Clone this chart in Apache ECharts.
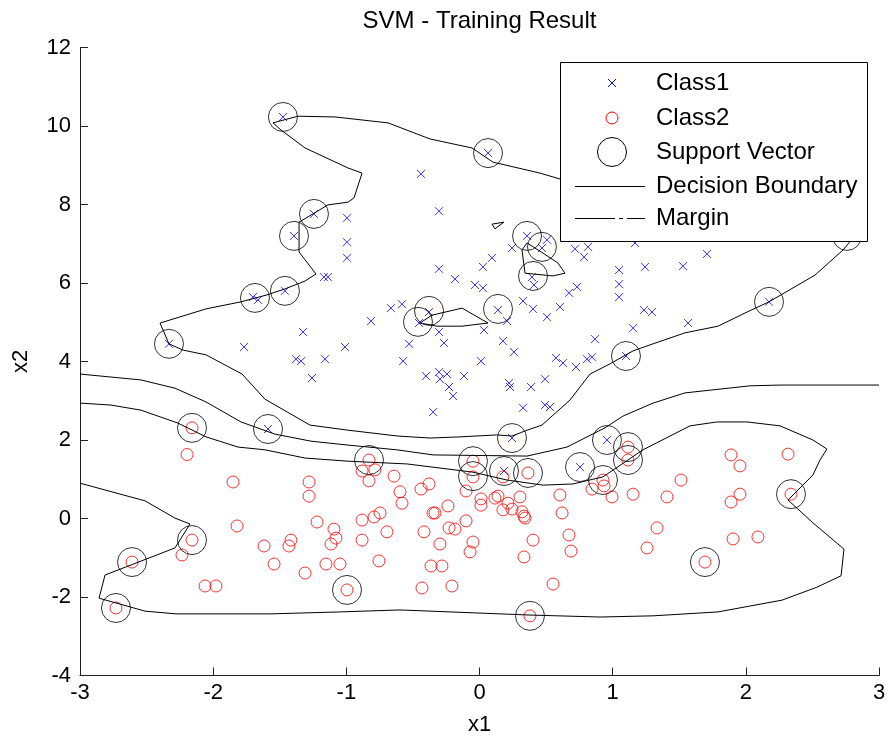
<!DOCTYPE html>
<html>
<head>
<meta charset="utf-8">
<script src="https://cdn.jsdelivr.net/npm/echarts@6/dist/echarts.min.js"></script>
<style>
  html, body { margin: 0; padding: 0; background: #fff; }
  #chart { width: 889px; height: 743px; }
</style>
</head>
<body>
<div id="chart"></div>
<script>
// Training samples, class 1 (x1, x2)
const class1 = [
  [-1.476, 10.23], [0.064, 9.31], [-0.439, 8.78], [-0.304, 7.83], [-1.243, 7.76],
  [-1.393, 7.20], [-0.995, 7.66], [-0.995, 7.04], [-0.995, 6.64], [-1.168, 6.15],
  [-1.138, 6.15], [-1.701, 5.64], [-1.663, 5.57], [-1.461, 5.80], [-1.325, 4.75],
  [-1.768, 4.37], [-1.378, 4.06], [-1.340, 4.01], [-1.160, 4.06], [-1.258, 3.58],
  [-1.010, 4.37], [-2.332, 4.45], [-1.588, 2.28], [-0.304, 6.36], [-0.184, 6.10],
  [-0.034, 5.95], [0.026, 5.87], [0.026, 6.41], [0.094, 6.64], [0.244, 6.89],
  [0.357, 7.20], [0.507, 7.10], [0.469, 6.89], [0.394, 6.15], [0.409, 5.95],
  [0.717, 6.87], [0.815, 6.92], [0.785, 6.66], [0.732, 5.90], [1.168, 7.02],
  [1.708, 6.74], [2.760, 7.20], [1.048, 5.97], [1.048, 5.64], [1.235, 5.31],
  [1.295, 5.26], [1.153, 4.85], [1.566, 4.98], [2.174, 5.52], [1.100, 4.14],
  [0.957, 2.00], [0.327, 5.54], [0.402, 5.34], [0.672, 5.75], [0.604, 5.39],
  [0.507, 5.13], [-0.379, 5.26], [-0.454, 4.98], [0.139, 5.31], [0.207, 5.03],
  [0.034, 4.80], [-0.665, 5.36], [-0.582, 5.46], [-0.815, 5.03], [-0.529, 4.45],
  [-0.304, 4.75], [-0.267, 4.47], [-0.574, 4.01], [0.176, 4.52], [0.259, 4.24],
  [0.011, 4.01], [-0.402, 3.63], [-0.304, 3.73], [-0.297, 3.55], [-0.244, 3.68],
  [-0.116, 3.63], [-0.229, 3.35], [-0.199, 3.12], [0.222, 3.45], [0.229, 3.35],
  [0.387, 3.35], [0.492, 3.55], [0.574, 4.09], [0.627, 3.96], [0.725, 3.86],
  [0.807, 4.06], [0.845, 4.11], [0.867, 4.57], [0.327, 2.82], [0.492, 2.89],
  [0.529, 2.84], [-0.349, 2.71], [0.244, 2.05], [0.184, 1.21], [0.755, 1.31],
  [1.048, 6.33], [1.243, 6.41], [1.528, 6.43]
];

// Training samples, class 2 (x1, x2)
const class2 = [
  [-2.159, 2.31], [-2.196, 1.63], [-1.851, 0.93], [-1.280, 0.93], [-1.280, 0.57],
  [-1.821, -0.19], [-1.220, -0.09], [-1.093, -0.27], [-1.078, -0.50], [-1.115, -0.65],
  [-2.159, -0.55], [-2.234, -0.93], [-1.416, -0.55], [-1.431, -0.70], [-1.618, -0.70],
  [-1.543, -1.16], [-1.310, -1.39], [-1.153, -1.16], [-1.048, -1.16], [-2.609, -1.11],
  [-2.061, -1.72], [-1.979, -1.72], [-2.730, -2.28], [-0.995, -1.82], [-0.830, 1.49],
  [-0.882, 1.21], [-0.785, 1.24], [-0.830, 0.96], [-0.642, 1.08], [-0.597, 0.68],
  [-0.582, 0.39], [-0.439, 0.75], [-0.379, 0.88], [-0.101, 0.70], [-0.049, 1.46],
  [-0.049, 1.06], [0.011, 0.50], [0.011, 0.34], [0.116, 0.52], [0.139, 0.57],
  [0.176, 1.06], [0.176, 0.22], [0.214, 0.39], [0.244, 0.24], [0.304, 0.55],
  [0.319, 0.17], [0.334, 0.06], [0.342, 0.01], [0.364, 1.16], [0.604, 0.60],
  [0.620, 0.14], [-0.882, -0.04], [-0.792, 0.04], [-0.747, 0.14], [-0.349, 0.14],
  [-0.334, 0.14], [-0.237, 0.32], [-0.101, -0.06], [-0.229, -0.24], [-0.184, -0.27],
  [-0.417, -0.34], [-0.695, -0.34], [-0.882, -0.55], [-0.297, -0.65], [-0.049, -0.60],
  [-0.071, -0.85], [0.402, -0.55], [0.672, -0.42], [0.687, -0.83], [0.334, -0.98],
  [-0.755, -1.08], [-0.364, -1.21], [-0.282, -1.21], [-0.432, -1.77], [-0.207, -1.72],
  [0.552, -1.67], [0.379, -2.48], [0.845, 0.75], [0.927, 0.98], [0.935, 0.83],
  [0.995, 0.55], [1.153, 0.62], [1.408, 0.55], [1.513, 0.98], [1.115, 1.82],
  [1.115, 1.49], [1.889, 1.62], [1.956, 1.34], [2.317, 1.64], [1.956, 0.62],
  [1.889, 0.42], [2.339, 0.62], [1.333, -0.24], [1.258, -0.75], [1.904, -0.52],
  [2.091, -0.47], [1.693, -1.11]
];

// Support vectors found by the trained classifier
const supportVectors = [
  [-1.476, 10.23], [0.064, 9.31], [-1.243, 7.76], [-1.393, 7.20], [-1.686, 5.62],
  [-1.461, 5.80], [-2.332, 4.45], [-1.588, 2.28], [-0.379, 5.29], [-0.462, 5.01],
  [0.139, 5.34], [0.357, 7.20], [0.469, 6.92], [0.402, 6.18], [2.174, 5.52],
  [1.100, 4.14], [2.760, 7.20], [0.244, 2.05], [0.184, 1.21], [0.755, 1.31],
  [0.957, 2.00],
  [-2.159, 2.31], [-0.830, 1.49], [-0.049, 1.46], [-0.049, 1.08], [0.364, 1.16],
  [0.927, 0.98], [1.115, 1.82], [1.115, 1.49], [2.339, 0.62], [1.693, -1.11],
  [0.379, -2.48], [-0.995, -1.82], [-2.730, -2.28], [-2.609, -1.11], [-2.159, -0.55]
];

// Zero level of the decision function
const decisionBoundary = [
  [-3.0, 3.68], [-2.542, 3.53], [-2.287, 3.32], [-2.054, 2.97], [-1.791, 2.46],
  [-1.536, 2.15], [-1.265, 1.97], [-0.987, 1.87], [-0.620, 1.75], [-0.349, 1.62],
  [0.357, 1.59], [0.657, 1.82], [0.942, 2.31], [1.078, 2.61], [1.303, 2.94],
  [1.543, 3.20], [2.031, 3.38], [2.257, 3.40], [3.0, 3.40]
];

// Margin contour on the class 1 side
const marginClass1 = [
  [-1.551, 10.08], [-1.363, 10.25], [-1.085, 10.23], [-0.687, 10.08], [-0.372, 9.67],
  [-0.056, 9.44], [0.101, 9.08], [0.454, 8.80], [0.604, 8.65], [1.656, 8.04],
  [2.632, 7.55], [2.842, 7.30], [2.730, 6.84], [2.519, 6.20], [2.174, 5.52],
  [2.009, 5.26], [1.791, 4.90], [1.543, 4.73], [1.303, 4.45], [1.153, 4.27],
  [0.980, 3.94], [0.830, 3.68], [0.680, 3.02], [0.469, 2.38], [0.357, 2.25],
  [0.244, 2.10], [0.131, 2.13], [-0.146, 2.08], [-0.372, 2.05], [-0.612, 2.10],
  [-0.987, 2.25], [-1.273, 2.38], [-1.611, 3.04], [-1.783, 3.68], [-2.054, 4.17],
  [-2.226, 4.29], [-2.332, 4.45], [-2.399, 4.98], [-2.054, 5.34], [-1.791, 5.52],
  [-1.603, 5.69], [-1.461, 5.85], [-1.310, 6.05], [-1.228, 6.23], [-1.355, 6.79],
  [-1.355, 7.55], [-1.138, 7.99], [-0.987, 8.06], [-0.942, 8.17], [-0.882, 8.80],
  [-0.987, 8.93], [-1.310, 9.44], [-1.491, 9.90], [-1.551, 10.08]
];

// Small closed pieces of the class 1 margin
const marginIslandA = [
  [-0.447, 4.98], [-0.357, 5.18], [-0.131, 5.36], [0.064, 4.98], [-0.131, 4.90],
  [-0.319, 4.90], [-0.447, 4.98]
];
const marginIslandB = [
  [0.357, 7.02], [0.477, 6.76], [0.589, 6.51], [0.642, 6.25], [0.552, 6.18],
  [0.342, 6.25], [0.319, 6.84], [0.357, 7.02]
];
const marginIslandC = [
  [0.094, 7.50], [0.184, 7.55], [0.116, 7.38], [0.094, 7.50]
];

// Margin contour on the class 2 side
const marginClass2 = [
  [-3.0, 2.94], [-2.767, 2.89], [-2.542, 2.76], [-2.264, 2.43], [-2.054, 2.08],
  [-1.813, 1.82], [-1.611, 1.75], [-1.310, 1.54], [-0.987, 1.46], [-0.544, 1.39],
  [-0.049, 1.18], [0.207, 0.98], [0.477, 0.85], [0.702, 0.88], [0.927, 1.06],
  [1.228, 1.75], [1.581, 2.36], [1.783, 2.46], [2.009, 2.46], [2.257, 2.36],
  [2.504, 2.00], [2.609, 1.77], [2.557, 1.49], [2.504, 1.11], [2.317, 0.47],
  [2.504, -0.11], [2.737, -0.78], [2.715, -1.46], [2.534, -1.75], [2.272, -2.08],
  [1.791, -2.38], [1.303, -2.48], [0.905, -2.51], [0.379, -2.46], [-0.597, -2.33],
  [-1.048, -2.38], [-1.566, -2.43], [-2.279, -2.43], [-2.512, -2.36], [-2.857, -2.03],
  [-2.812, -1.44], [-2.287, -0.75], [-2.174, -0.14], [-2.287, 0.01], [-2.512, 0.45],
  [-3.0, 0.90]
];

const xTicks = { min: -3, max: 3, interval: 1 };
const yTicks = { min: -4, max: 12, interval: 2 };

const FONT = '"Liberation Sans", Arial, Helvetica, sans-serif';
const CROSS = 'path://M0,0L10,10M10,0L0,10';

function contour(name, data) {
  return {
    name: name, type: 'line', data: data, showSymbol: false, symbol: 'none',
    lineStyle: { color: '#000', width: 1 }, silent: true, z: 3, clip: true
  };
}

const chart = echarts.init(document.getElementById('chart'), null, { renderer: 'canvas' });

// Legend box drawn with plain shapes and text
const lx = 560, ly = 62, lw = 307, lh = 179;
const rowY = [83, 118, 152, 186, 218];
const textX = 656;
const legendText = ['Class1', 'Class2', 'Support Vector', 'Decision Boundary', 'Margin'];
const legendGraphic = [
  { type: 'rect', shape: { x: lx + 0.5, y: ly + 0.5, width: lw, height: lh },
    style: { fill: '#fff', stroke: '#000', lineWidth: 1 }, z: 100 },
  { type: 'group', z: 101, children: [
    { type: 'line', shape: { x1: 608, y1: 79, x2: 616, y2: 87 }, style: { stroke: '#0000ff', lineWidth: 1 }, z: 101 },
    { type: 'line', shape: { x1: 616, y1: 79, x2: 608, y2: 87 }, style: { stroke: '#0000ff', lineWidth: 1 }, z: 101 }
  ]},
  { type: 'circle', shape: { cx: 612, cy: 118, r: 6 }, style: { fill: 'none', stroke: '#ff0000', lineWidth: 1 }, z: 101 },
  { type: 'circle', shape: { cx: 612, cy: 152, r: 14.5 }, style: { fill: 'none', stroke: '#000', lineWidth: 1 }, z: 101 },
  { type: 'line', shape: { x1: 575, y1: 186.5, x2: 645, y2: 186.5 }, style: { stroke: '#000', lineWidth: 1 }, z: 101 },
  { type: 'line', shape: { x1: 575, y1: 218.5, x2: 645, y2: 218.5 },
    style: { stroke: '#000', lineWidth: 1, lineDash: [40, 4, 4, 4] }, z: 101 }
].concat(legendText.map(function (t, i) {
  return { type: 'text', x: textX, y: rowY[i], z: 101,
    style: { text: t, font: '24px ' + FONT, fill: '#000', textVerticalAlign: 'middle', verticalAlign: 'middle' } };
})).concat([
  { type: 'text', x: 479.5, y: 21, z: 101,
    style: { text: 'SVM - Training Result', font: '24px ' + FONT, fill: '#000',
      textAlign: 'center', align: 'center', textVerticalAlign: 'middle', verticalAlign: 'middle' } }
]);

chart.setOption({
  animation: false,
  backgroundColor: '#fff',
  grid: { left: 80, top: 47.5, width: 799, height: 628, containLabel: false },
  xAxis: {
    type: 'value', min: xTicks.min, max: xTicks.max, interval: xTicks.interval,
    name: 'x1', nameLocation: 'middle', nameGap: 38,
    nameTextStyle: { fontFamily: FONT, fontSize: 22, color: '#000' },
    axisLine: { onZero: false, lineStyle: { color: '#222', width: 1 } },
    axisTick: { inside: true, length: 8, lineStyle: { color: '#222' } },
    axisLabel: { fontFamily: FONT, fontSize: 22, color: '#000', margin: 6 },
    splitLine: { show: false }
  },
  yAxis: {
    type: 'value', min: yTicks.min, max: yTicks.max, interval: yTicks.interval,
    name: 'x2', nameLocation: 'middle', nameGap: 48, nameRotate: 90,
    nameTextStyle: { fontFamily: FONT, fontSize: 22, color: '#000' },
    axisLine: { onZero: false, lineStyle: { color: '#222', width: 1 } },
    axisTick: { inside: true, length: 8, lineStyle: { color: '#222' } },
    axisLabel: { fontFamily: FONT, fontSize: 22, color: '#000', margin: 9 },
    splitLine: { show: false }
  },
  graphic: legendGraphic,
  series: [
    { name: 'Class1', type: 'scatter', data: class1, symbol: CROSS, symbolSize: 8,
      itemStyle: { color: 'none', borderColor: '#0000ff', borderWidth: 1 }, silent: true, z: 2 },
    { name: 'Class2', type: 'scatter', data: class2, symbol: 'circle', symbolSize: 12,
      itemStyle: { color: 'none', borderColor: '#ff0000', borderWidth: 1 }, silent: true, z: 2 },
    { name: 'Support Vector', type: 'scatter', data: supportVectors, symbol: 'circle', symbolSize: 29,
      itemStyle: { color: 'none', borderColor: '#000', borderWidth: 1 }, silent: true, z: 4 },
    contour('Decision Boundary', decisionBoundary),
    contour('Margin', marginClass1),
    contour('Margin', marginIslandA),
    contour('Margin', marginIslandB),
    contour('Margin', marginIslandC),
    contour('Margin', marginClass2)
  ]
});
</script>
</body>
</html>
